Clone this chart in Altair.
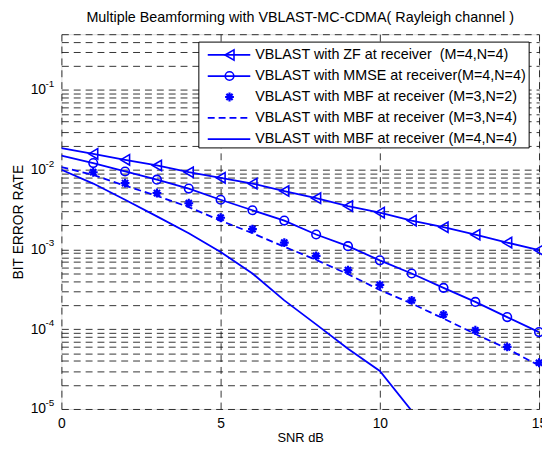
import altair as alt
import pandas as pd

FONT = "Liberation Sans"
BLUE = "#0000ff"

snr = list(range(16))
zf = [0.0187, 0.0158, 0.0133, 0.0113, 0.0093, 0.0079, 0.0067, 0.0054, 0.0044,
      0.0035, 0.0029, 0.0023, 0.0019, 0.00153, 0.00122, 0.00098]
mmse = [0.015, 0.0121, 0.0095, 0.0075, 0.0058, 0.0042, 0.0031, 0.0023, 0.00154,
        0.0011, 0.00073, 0.0005, 0.00033, 0.00022, 0.000142, 0.000092]
mbf32 = [None, 0.0093, 0.0068, 0.0051, 0.0038, 0.0025, 0.0018, 0.00122, 0.00083,
         0.00055, 0.00036, 0.00023, 0.000153, 0.000097, 0.00006, 0.000038]
mbf34 = [0.0108, 0.0086, 0.0063, 0.0047, 0.0034, 0.0023, 0.0016, 0.00108, 0.00074,
         0.00049, 0.00031, 0.00021, 0.000136, 0.000087, 0.000057, 0.000035]
mbf44 = [0.0100, 0.0067, 0.0042, 0.0026, 0.0016, 0.00093, 0.0005, 0.00023,
         0.000115, 0.000057, 0.00003, 0.0000095]

labels = [
    "VBLAST with ZF at receiver\u00a0 (M=4,N=4)",
    "VBLAST with MMSE at receiver(M=4,N=4)",
    "VBLAST with MBF at receiver (M=3,N=2)",
    "VBLAST with MBF at receiver (M=3,N=4)",
    "VBLAST with MBF at receiver (M=4,N=4)",
]

exponents = [-5, -4, -3, -2, -1]
grid_vals = [m * 10.0 ** k for k in range(-5, 0) for m in range(1, 10) if m * 10.0 ** k <= 0.5]


def frame(vals):
    rows = []
    for x, v in zip(snr, vals):
        if v is not None:
            rows.append({"snr": x, "ber": v})
    return pd.DataFrame(rows)


xenc = alt.X("snr:Q", scale=alt.Scale(domain=[0, 15], nice=False, zero=False),
             axis=alt.Axis(values=[0, 5, 10, 15], grid=True, ticks=False, domain=False,
                           labelFont=FONT, labelFontSize=14, labelColor="black",
                           labelPadding=8, title="SNR dB", titleFont=FONT,
                           titleFontSize=13, titleFontWeight="normal", titleColor="black",
                           titlePadding=1, gridColor="#000", gridOpacity=0.8,
                           gridDash=[7, 5], gridWidth=1, labelFlush=False))
yenc = alt.Y("ber:Q", scale=alt.Scale(type="log", domain=[1e-5, 0.5], nice=False),
             axis=alt.Axis(values=grid_vals, grid=True, ticks=False, domain=False,
                           labelExpr="abs(log(datum.value)/LN10 - round(log(datum.value)/LN10)) < 0.001 ? '10' : ''",
                           labelFont=FONT, labelFontSize=14, labelColor="black",
                           labelPadding=16, title="BIT ERROR RATE", titleFont=FONT,
                           titleFontSize=14, titleFontWeight="normal", titleColor="black",
                           titlePadding=5, gridColor="#000", gridOpacity=0.8,
                           gridDash=[7, 5], gridWidth=1, labelOverlap=False,
                           labelFlush=False))

df_zf = frame(zf)
df_mmse = frame(mmse)
df_32 = frame(mbf32)
df_34 = frame(mbf34)
df_44 = frame(mbf44)

line_zf = alt.Chart(df_zf).mark_line(color=BLUE, strokeWidth=1.8, clip=True).encode(x=xenc, y=yenc)
line_mmse = alt.Chart(df_mmse).mark_line(color=BLUE, strokeWidth=1.8, clip=True).encode(x=xenc, y=yenc)
line_34 = alt.Chart(df_34).mark_line(color=BLUE, strokeWidth=1.8, strokeDash=[7, 4], clip=True).encode(x=xenc, y=yenc)
line_44 = alt.Chart(df_44).mark_line(color=BLUE, strokeWidth=1.8, clip=True).encode(x=xenc, y=yenc)

STAR = "M0,-1L0,1M-1,0L1,0M-0.7,-0.7L0.7,0.7M-0.7,0.7L0.7,-0.7"
STAR_SIZE = 80

pts_zf = alt.Chart(df_zf[df_zf.snr >= 1]).mark_point(
    shape="triangle-left", size=110, color=BLUE, filled=False, strokeWidth=1.6, opacity=1
).encode(x=xenc, y=yenc)
pts_mmse = alt.Chart(df_mmse[df_mmse.snr >= 1]).mark_point(
    shape="circle", size=75, color=BLUE, filled=False, strokeWidth=1.6, opacity=1
).encode(x=xenc, y=yenc)
pts_32 = alt.Chart(df_32).mark_point(
    shape=STAR, size=STAR_SIZE, color=BLUE, filled=False, strokeWidth=2.2, opacity=1
).encode(x=xenc, y=yenc)

# exponent superscripts for the y labels
df_exp = pd.DataFrame({"ber": [10.0 ** e for e in exponents],
                       "txt": [str(e) for e in exponents]})
exp_txt = alt.Chart(df_exp).mark_text(
    align="left", baseline="middle", font=FONT, fontSize=10, dy=-6, color="black"
).encode(x=alt.value(-16), y=yenc, text="txt:N")

# legend
LX0, LX1, LY0, LY1 = 139, 473, 8, 115
ys = [21, 42.3, 63.5, 84.7, 106]
leg_df = pd.DataFrame({"a": [0]})
legend_layers = [
    alt.Chart(leg_df).mark_rect(fill="white", stroke="black", strokeWidth=1).encode(
        x=alt.value(LX0), x2=alt.value(LX1), y=alt.value(LY0), y2=alt.value(LY1))
]
styles = [("solid", "triangle-left"), ("solid", "circle"), (None, STAR), ("dash", None), ("solid", None)]
for yy, lab, (ls, mk) in zip(ys, labels, styles):
    if ls is not None:
        kw = dict(color=BLUE, strokeWidth=1.8)
        if ls == "dash":
            kw["strokeDash"] = [7, 4]
        legend_layers.append(alt.Chart(leg_df).mark_rule(**kw).encode(
            x=alt.value(148), x2=alt.value(191), y=alt.value(yy)))
    if mk is not None:
        size = {"triangle-left": 110, "circle": 75}.get(mk, STAR_SIZE)
        sw = 2.2 if mk == STAR else 1.6
        legend_layers.append(alt.Chart(leg_df).mark_point(
            shape=mk, size=size, color=BLUE, filled=False, strokeWidth=sw, opacity=1
        ).encode(x=alt.value(170), y=alt.value(yy)))
    legend_layers.append(alt.Chart(leg_df).mark_text(
        align="left", baseline="middle", font=FONT, fontSize=14.5, color="black"
    ).encode(x=alt.value(196), y=alt.value(yy), text=alt.value(lab)))

chart = alt.layer(
    line_zf, line_mmse, line_34, line_44, pts_zf, pts_mmse, pts_32, exp_txt,
    *legend_layers
).properties(
    width=483, height=379,
    title=alt.TitleParams("Multiple Beamforming with VBLAST-MC-CDMA( Rayleigh channel )",
                          font=FONT, fontSize=14.5, fontWeight="normal", color="black",
                          anchor="middle", offset=2),
    autosize=alt.AutoSizeParams(type="none"),
    padding={"left": 54, "top": 24, "right": 3, "bottom": 40},
).configure_view(stroke="black", strokeWidth=1).configure(background="white")

chart.save("out.html", embed_options={"renderer": "svg", "actions": False})
